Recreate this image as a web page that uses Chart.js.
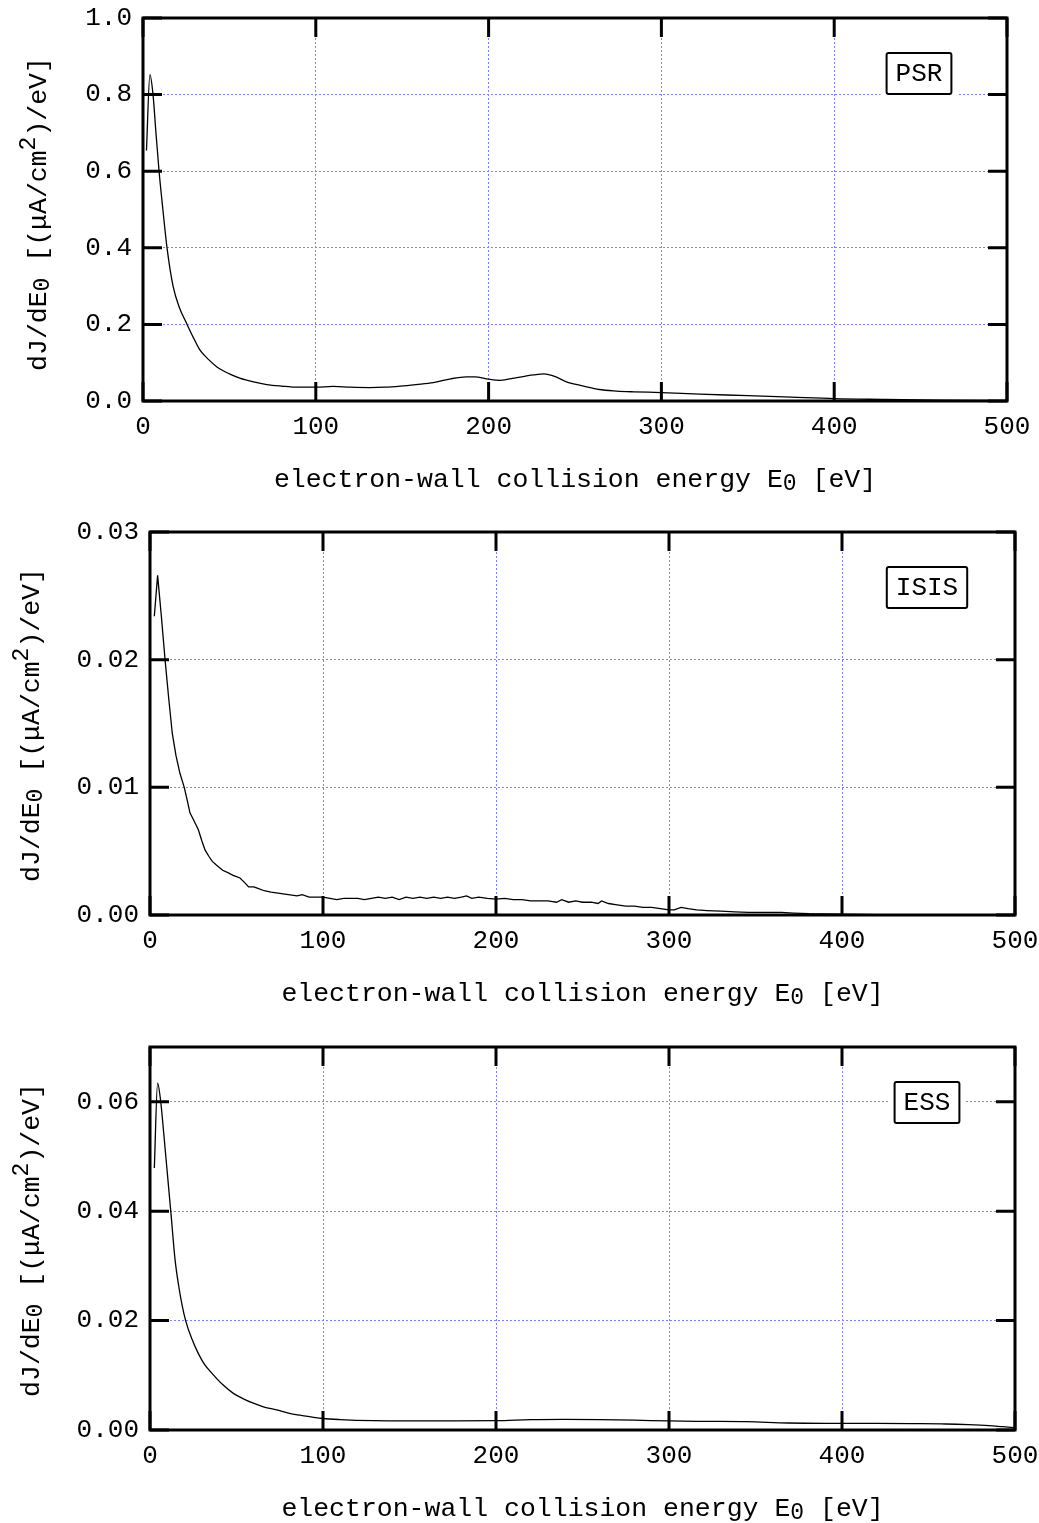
<!DOCTYPE html>
<html lang="en">
<head>
  <meta charset="UTF-8">
  <title>Electron-wall collision energy spectra - PSR, ISIS, ESS</title>
  <script src="https://cdn.jsdelivr.net/npm/chart.js"></script>
  <style>
    body { margin: 0; background: #fff; }
    canvas { display: block; }
  </style>
</head>
<body>
  <canvas id="psrChart" width="1039" height="515"></canvas>
  <canvas id="isisChart" width="1039" height="515"></canvas>
  <canvas id="essChart" width="1039" height="493"></canvas>

  <script>
    // values, energy in eV, dJ/dE0 in (uA/cm^2)/eV
    const psrEnergy = [2, 4, 5.8, 7.5, 9.3, 11.5, 13.9, 17.4, 21, 25.5, 30, 33, 38, 42.8, 50, 56, 64, 71.6, 80, 90,
      100, 110, 120, 131, 140, 149, 158, 168, 178, 187, 192, 200, 207, 215, 226, 232, 239, 245, 255, 264,
      274, 284, 300, 322, 350, 375, 400, 430, 461, 500];
    const psrFlux = [0.654, 0.852, 0.80, 0.70, 0.60, 0.50, 0.40, 0.30, 0.245, 0.20, 0.158, 0.133, 0.108, 0.089, 0.071, 0.060, 0.050, 0.043, 0.039, 0.036,
      0.036, 0.038, 0.036, 0.035, 0.036, 0.039, 0.043, 0.048, 0.058, 0.063, 0.063, 0.057, 0.054, 0.060, 0.068, 0.071, 0.063, 0.050, 0.039, 0.030,
      0.026, 0.024, 0.022, 0.018, 0.014, 0.010, 0.006, 0.004, 0.002, 0.001];

    const isisEnergy = [2.5, 4.4, 6.5, 8.7, 10.8, 12.9, 15, 17.3, 19.8, 21.5, 23.1, 25, 27.9, 30, 31.8, 34, 36, 38.5, 42, 45.3,
      48, 50, 52, 55, 57, 60, 62, 66, 70, 75, 80, 85, 88, 92, 96, 100, 104, 108, 112, 116,
      120, 124, 128, 132, 136, 140, 144, 148, 152, 156, 160, 164, 168, 172, 176, 180, 183, 186, 190, 195,
      200, 205, 210, 215, 220, 225, 230, 235, 238, 242, 246, 250, 255, 259, 261, 265, 270, 275, 280, 285,
      290, 295, 300, 303, 307, 311, 316, 322, 330, 338, 346, 355, 365, 372, 381, 390, 400, 410, 420, 430, 440];
    const isisFlux = [0.0234, 0.0266, 0.0235, 0.0200, 0.0170, 0.0142, 0.0125, 0.0111, 0.0100, 0.0090, 0.0080, 0.0075, 0.0067, 0.0058, 0.0051, 0.0046, 0.0042, 0.0039, 0.0035, 0.0033,
      0.0031, 0.0030, 0.0029, 0.0025, 0.0022, 0.0022, 0.0021, 0.0019, 0.0018, 0.0017, 0.0016, 0.0015, 0.0016, 0.0014, 0.0014, 0.0014, 0.0013, 0.0012, 0.0013, 0.0013,
      0.0013, 0.0012, 0.0013, 0.0014, 0.0013, 0.0014, 0.0012, 0.0014, 0.0013, 0.0014, 0.0013, 0.0014, 0.0013, 0.0014, 0.0013, 0.0014, 0.0015, 0.0013, 0.0014, 0.0013,
      0.00125, 0.0013, 0.0012, 0.0012, 0.0011, 0.0011, 0.0011, 0.0010, 0.0012, 0.0010, 0.0011, 0.0010, 0.0010, 0.0009, 0.0011, 0.0009, 0.0008, 0.0007, 0.0007, 0.0006,
      0.0006, 0.0005, 0.0004, 0.0004, 0.0006, 0.0005, 0.0004, 0.00035, 0.0003, 0.00025, 0.0002, 0.0002, 0.0002, 0.00015, 0.0001, 0.00008, 0.00006, 0.00005, 0.00003, 0.00003, 0.00002];

    const essEnergy = [2.5, 4.4, 6.2, 8, 10, 12, 14.5, 16.5, 18.7, 20.6, 24, 27.9, 31.5, 35.7, 42, 48.2, 54, 59.7, 66, 73.2,
      80, 86.7, 93, 100, 110, 129, 150, 175, 200, 220, 239, 260, 280, 300, 320, 345, 369, 400, 420, 440,
      460, 473, 485, 493, 500];
    const essFlux = [0.0479, 0.0634, 0.0600, 0.0540, 0.0470, 0.0400, 0.0311, 0.0265, 0.0226, 0.0200, 0.0168, 0.0140, 0.0120, 0.0104, 0.0083, 0.0067, 0.0057, 0.0049, 0.0042, 0.0037,
      0.0031, 0.0027, 0.0024, 0.0021, 0.0019, 0.0017, 0.00165, 0.00168, 0.0017, 0.0019, 0.00195, 0.0019, 0.0018, 0.00165, 0.00158, 0.00152, 0.00128, 0.00122, 0.0012, 0.00116,
      0.0011, 0.00098, 0.0008, 0.0006, 0.00043];

    const energyTicks = [0, 100, 200, 300, 400, 500];
    const psrTicks = [0, 0.2, 0.4, 0.6, 0.8, 1.0];
    const isisTicks = [0, 0.01, 0.02, 0.03];
    const essTicks = [0, 0.02, 0.04, 0.06];

    const FONT = '"Liberation Mono", "Courier New", monospace';
    const SIZE = 26;
    const TITLE_SIZE = 26.5;

    const xTitle = [['electron-wall collision energy E', 0], ['0', -1], [' [eV]', 0]];
    const yTitle = [['dJ/dE', 0], ['0', -1], [' [(\u03bcA/cm', 0], ['2', 1], [')/eV]', 0]];

    // text with sub/superscripts, centred on cx, baseline at y
    function drawRich(ctx, parts, cx, y) {
      const small = Math.round(TITLE_SIZE * 0.85);
      let w = 0;
      parts.forEach(([t, s]) => {
        ctx.font = (s ? small : TITLE_SIZE) + 'px ' + FONT;
        w += ctx.measureText(t).width;
      });
      let x = cx - w / 2;
      ctx.textAlign = 'left';
      ctx.textBaseline = 'alphabetic';
      parts.forEach(([t, s]) => {
        ctx.font = (s ? small : TITLE_SIZE) + 'px ' + FONT;
        const dy = s < 0 ? 3 : (s > 0 ? -11 : 0);
        ctx.fillText(t, x, y + dy);
        x += ctx.measureText(t).width;
      });
    }

    const frame = {
      id: 'frame',
      beforeDraw(chart) {
        const ctx = chart.ctx;
        ctx.save();
        ctx.fillStyle = '#fff';
        ctx.fillRect(0, 0, chart.width, chart.height);
        ctx.restore();
      },
      afterDraw(chart, args, opts) {
        const { ctx, chartArea: a, scales: { x, y } } = chart;
        ctx.save();
        ctx.strokeStyle = '#000';
        ctx.lineWidth = 3;
        ctx.beginPath();
        x.ticks.forEach(t => {
          const px = x.getPixelForValue(t.value);
          ctx.moveTo(px, a.top); ctx.lineTo(px, a.top + 19);
          ctx.moveTo(px, a.bottom); ctx.lineTo(px, a.bottom - 19);
        });
        y.ticks.forEach(t => {
          const py = y.getPixelForValue(t.value);
          ctx.moveTo(a.left, py); ctx.lineTo(a.left + 19, py);
          ctx.moveTo(a.right, py); ctx.lineTo(a.right - 19, py);
        });
        ctx.stroke();
        ctx.strokeRect(a.left, a.top, a.right - a.left, a.bottom - a.top);

        // key box
        ctx.font = SIZE + 'px ' + FONT;
        const tw = ctx.measureText(opts.label).width;
        const bw = tw + 18, bh = 41;
        const bx = a.right - 88 - bw / 2, by = a.top + 35;
        ctx.fillStyle = '#fff';
        ctx.fillRect(bx - 6, by - 6, bw + 12, bh + 12);
        ctx.lineWidth = 2;
        ctx.beginPath();
        ctx.roundRect(bx, by, bw, bh, 2);
        ctx.stroke();
        ctx.fillStyle = '#000';
        ctx.textAlign = 'center';
        ctx.textBaseline = 'middle';
        ctx.fillText(opts.label, bx + bw / 2, by + bh / 2 + 1);

        // axis titles
        drawRich(ctx, xTitle, (a.left + a.right) / 2, a.bottom + 86);
        ctx.translate(opts.yTitleX, opts.yTitleY);
        ctx.rotate(-Math.PI / 2);
        drawRich(ctx, yTitle, 0, 0);
        ctx.restore();
      }
    };

    // keep label overhang from shifting the plot box
    function noPad(s) {
      s.paddingLeft = 0; s.paddingRight = 0; s.paddingTop = 0; s.paddingBottom = 0;
    }

    function makeChart(id, energy, flux, yTicks, yMax, digits, smooth, p) {
      const points = energy.map((e, i) => ({ x: e, y: flux[i] }));
      const H = document.getElementById(id).height;
      return new Chart(document.getElementById(id), {
        type: 'line',
        data: {
          datasets: [{
            data: points,
            borderColor: '#000',
            borderWidth: 1.3,
            pointRadius: 0,
            fill: false,
            cubicInterpolationMode: smooth ? 'monotone' : 'default',
            tension: 0
          }]
        },
        options: {
          responsive: false,
          animation: false,
          events: [],
          layout: { padding: { left: 0, right: 1039 - p.right, top: p.top, bottom: 0 } },
          plugins: {
            legend: { display: false },
            tooltip: { enabled: false },
            frame: p
          },
          scales: {
            x: {
              type: 'linear',
              min: 0,
              max: 500,
              afterBuildTicks: s => { s.ticks = energyTicks.map(v => ({ value: v })); },
              afterFit: s => { s.height = H - p.bottom; noPad(s); },
              grid: { color: '#7f7fff', lineWidth: 1, drawTicks: false },
              border: { display: false, dash: [2, 2] },
              ticks: { color: '#000', padding: 11, maxRotation: 0, font: { family: FONT, size: SIZE } }
            },
            y: {
              type: 'linear',
              min: 0,
              max: yMax,
              afterBuildTicks: s => { s.ticks = yTicks.map(v => ({ value: v })); },
              afterFit: s => { s.width = p.left; noPad(s); },
              grid: { color: '#7f7fff', lineWidth: 1, drawTicks: false },
              border: { display: false, dash: [2, 2] },
              ticks: {
                color: '#000',
                padding: 11,
                font: { family: FONT, size: SIZE },
                callback: v => v.toFixed(digits)
              }
            }
          }
        },
        plugins: [frame]
      });
    }

    makeChart('psrChart', psrEnergy, psrFlux, psrTicks, 1.0, 1, true,
      { label: 'PSR', left: 143, right: 1007, top: 18, bottom: 401, yTitleX: 46, yTitleY: 214 });
    makeChart('isisChart', isisEnergy, isisFlux, isisTicks, 0.03, 2, false,
      { label: 'ISIS', left: 150, right: 1015, top: 17, bottom: 400, yTitleX: 39, yTitleY: 210 });
    makeChart('essChart', essEnergy, essFlux, essTicks, 0.07, 2, true,
      { label: 'ESS', left: 150, right: 1015, top: 17, bottom: 400, yTitleX: 39, yTitleY: 210 });
  </script>
</body>
</html>
